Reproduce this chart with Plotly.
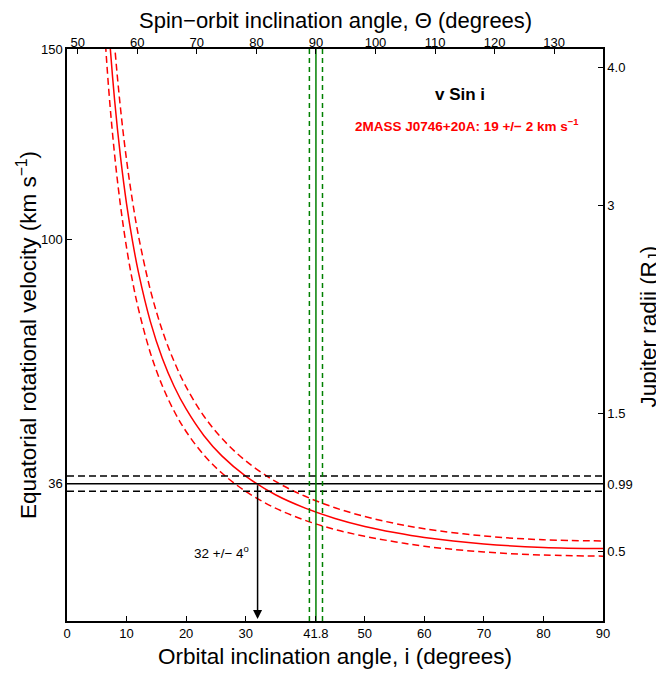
import plotly.graph_objects as go

# ---- data ----
incl = [6, 7, 8, 9, 10, 11, 12, 14, 16, 18, 20, 23, 26, 30, 35, 40, 45, 50, 55, 60, 70, 80, 90]
v_mid = [181.8, 155.9, 136.5, 121.5, 109.4, 99.6, 91.4, 78.5, 68.9, 61.5, 55.6, 48.6, 43.3, 38.0,
         33.1, 29.6, 26.9, 24.8, 23.2, 21.9, 20.2, 19.3, 19.0]
v_low = [162.6, 139.5, 122.2, 108.7, 97.9, 89.1, 81.8, 70.3, 61.7, 55.0, 49.7, 43.5, 38.8, 34.0,
         29.6, 26.4, 24.0, 22.2, 20.8, 19.6, 18.1, 17.3, 17.0]
v_high = [200.9, 172.3, 150.9, 134.2, 120.9, 110.1, 101.0, 86.8, 76.2, 68.0, 61.4, 53.7, 47.9, 42.0,
          36.6, 32.7, 29.7, 27.4, 25.6, 24.2, 22.3, 21.3, 21.0]

veq = 36
veq_err = 2
i_obs = 41.8
i_obs_err = 1.1
i_result = 32

bottom_ticks = [0, 10, 20, 30, 41.8, 50, 60, 70, 80, 90]
bottom_text = ["0", "10", "20", "30", "41.8", "50", "60", "70", "80", "90"]
top_ticks = [50, 60, 70, 80, 90, 100, 110, 120, 130]
left_ticks = [36, 100, 150]
right_ticks = [0.5, 0.99, 1.5, 3, 4.0]
right_text = ["0.5", "0.99", "1.5", "3", "4.0"]
theta_offset = 48.2      # spin-orbit angle = i + offset
v_per_rj = 36.3          # km/s per Jupiter radius

RED = "rgb(255,0,0)"
GREEN = "rgb(0,128,0)"
FONT = "Liberation Sans, Arial, Helvetica, sans-serif"
DASH = "7px,4px"
GDASH = "5px,4px"

fig = go.Figure()

# vsini curves
fig.add_trace(go.Scatter(x=incl, y=v_high, mode="lines", line=dict(color=RED, width=1.5, dash=DASH, shape="spline"),
                         hoverinfo="skip"))
fig.add_trace(go.Scatter(x=incl, y=v_low, mode="lines", line=dict(color=RED, width=1.5, dash=DASH, shape="spline"),
                         hoverinfo="skip"))
fig.add_trace(go.Scatter(x=incl, y=v_mid, mode="lines", line=dict(color=RED, width=1.5, shape="spline"),
                         hoverinfo="skip"))

# horizontal equatorial velocity lines
for yy, dash in [(veq + veq_err, DASH), (veq - veq_err, DASH), (veq, "solid")]:
    fig.add_trace(go.Scatter(x=[0, 90], y=[yy, yy], mode="lines",
                             line=dict(color="black", width=1.5, dash=dash), hoverinfo="skip"))

# vertical orbital inclination lines
for xx, dash in [(i_obs - i_obs_err, GDASH), (i_obs + i_obs_err, GDASH), (i_obs, "solid")]:
    fig.add_trace(go.Scatter(x=[xx, xx], y=[0, 150], mode="lines",
                             line=dict(color=GREEN, width=1.5, dash=dash), hoverinfo="skip"))

# invisible trace to anchor secondary axes
fig.add_trace(go.Scatter(x=[90], y=[1], xaxis="x2", yaxis="y2", mode="markers",
                         marker=dict(opacity=0), hoverinfo="skip"))

# arrow and in-plot text
fig.add_annotation(x=i_result, y=0.5, ax=i_result, ay=veq, xref="x", yref="y", axref="x", ayref="y",
                   showarrow=True, arrowhead=2, arrowsize=1.2, arrowwidth=1.5, arrowcolor="black", text="")
fig.add_annotation(x=26, y=18, xref="x", yref="y", text="32 +/\u2212 4<sup>o</sup>", showarrow=False,
                   font=dict(size=13.5, color="black", family=FONT))
fig.add_annotation(x=66, y=138, xref="x", yref="y", text="<b>v Sin i</b>", showarrow=False,
                   font=dict(size=17, color="black", family=FONT))
fig.add_annotation(x=67.2, y=130, xref="x", yref="y",
                   text="<b>2MASS J0746+20A: 19 +/\u2212 2 km s<sup>\u22121</sup></b>", showarrow=False,
                   font=dict(size=13.5, color=RED, family=FONT))

# axis titles as annotations (exact placement)
TFONT = dict(size=22.5, color="black", family=FONT)
fig.add_annotation(x=0.5, y=-0.0629, xref="paper", yref="paper", text="Orbital inclination angle, i (degrees)",
                   showarrow=False, font=TFONT, xanchor="center", yanchor="middle")
fig.add_annotation(x=0.5, y=1.0490, xref="paper", yref="paper",
                   text="Spin\u2212orbit inclination angle, \u0398 (degrees)",
                   showarrow=False, font=dict(size=22, color="black", family=FONT),
                   xanchor="center", yanchor="middle")
fig.add_annotation(x=-0.0746, y=0.5, xref="paper", yref="paper",
                   text="Equatorial rotational velocity (km s<sup>\u22121</sup>)",
                   showarrow=False, font=TFONT, textangle=-90, xanchor="center", yanchor="middle")
fig.add_annotation(x=1.0877, y=0.515, xref="paper", yref="paper", text="Jupiter radii (R<sub>J</sub>)",
                   showarrow=False, font=TFONT, textangle=-90, xanchor="center", yanchor="middle")

axis_common = dict(showgrid=False, zeroline=False, showline=True, linecolor="black", linewidth=1.5,
                   ticks="inside", ticklen=5, tickcolor="black", tickwidth=1, automargin=False,
                   tickfont=dict(size=13, color="black", family=FONT))

# page body has an 8px margin, so the figure is sized to fit the window from (8, 8)
fig.update_layout(
    width=656, height=667,
    margin=dict(l=59, r=61, t=41, b=54),
    plot_bgcolor="white", paper_bgcolor="white",
    showlegend=False,
    font=dict(family=FONT, color="black"),
    xaxis=dict(range=[0, 90], tickvals=bottom_ticks, ticktext=bottom_text, **axis_common),
    xaxis2=dict(range=[theta_offset, 90 + theta_offset], tickvals=top_ticks, overlaying="x", side="top",
                anchor="y", ticklabelstandoff=-5, **axis_common),
    yaxis=dict(range=[0, 150], tickvals=left_ticks, **axis_common),
    yaxis2=dict(range=[0, 150 / v_per_rj], tickvals=right_ticks, ticktext=right_text, overlaying="y",
                side="right", anchor="x", **axis_common),
)

fig.write_html("out.html")
